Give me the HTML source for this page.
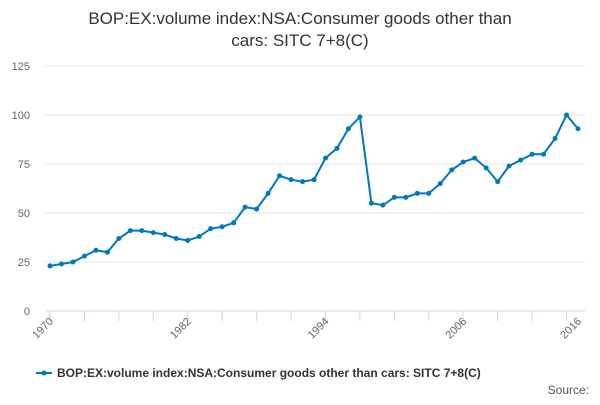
<!DOCTYPE html>
<html><head><meta charset="utf-8"><style>
body{margin:0;background:#fff;font-family:"Liberation Sans",sans-serif;}
svg text{font-family:"Liberation Sans",sans-serif;}
</style></head><body>
<svg id="chart" width="600" height="400">
<text x="300" y="24" text-anchor="middle" font-size="17" fill="#333">BOP:EX:volume index:NSA:Consumer goods other than</text>
<text x="300" y="46" text-anchor="middle" font-size="17" fill="#333">cars: SITC 7+8(C)</text>
<g id="grid"></g><g id="xaxis"></g><g id="series"></g>
<g>
<line x1="36" y1="373" x2="52" y2="373" stroke="#0077be" stroke-width="2"/>
<circle cx="44" cy="373" r="2.5" fill="#0077be"/>
<text x="57" y="377" font-size="12" font-weight="bold" fill="#333">BOP:EX:volume index:NSA:Consumer goods other than cars: SITC 7+8(C)</text>
</g>
<text x="589" y="394" text-anchor="end" font-size="12" fill="#555">Source:</text>
</svg>
<script>
const startYear = 1970;
const values = [23,24,25,28,31,30,37,41,41,40,39,37,36,38,42,43,45,53,52,60,69,67,66,67,78,83,93,99,55,54,58,58,60,60,65,72,76,78,73,66,74,77,80,80,88,100,93];
const yTicks = [0,25,50,75,100,125];
const xTickYears = [1970,1982,1994,2006,2016];
const NS='http://www.w3.org/2000/svg';
const x0=50,x1=578,y0=311,y1=66;
const X=i=>x0+(x1-x0)*i/(values.length-1);
const Y=v=>y0-(y0-y1)*v/125;
function mk(t,a,p){const e=document.createElementNS(NS,t);for(const k in a)e.setAttribute(k,a[k]);p.appendChild(e);return e;}
const grid=document.getElementById('grid');
yTicks.forEach(v=>{
  const l=mk('line',{x1:45,x2:585,y1:Y(v),y2:Y(v),stroke:v===0?'#ccd6eb':'#e6e6e6'},grid);
  
  
  const t=mk('text',{x:30,y:Y(v)+4,'text-anchor':'end','font-size':11,fill:'#666'},grid);
  t.textContent=v;
  
  
});
const xa=document.getElementById('xaxis');
for(let i=0;i<values.length;i+=3){
  const tk=mk('line',{x1:X(i),x2:X(i),y1:311,y2:321,stroke:'#ccd6eb'},xa);
  
  
}
xTickYears.forEach(yr=>{
  const i=yr-startYear;
  const t=mk('text',{x:X(i)+4,y:322,'text-anchor':'end','font-size':11,fill:'#666',transform:`rotate(-45 ${X(i)+4} 322)`},xa);
  t.textContent=yr;
  
  
});
const s=document.getElementById('series');
const p=mk('polyline',{points:values.map((v,i)=>X(i)+','+Y(v)).join(' '),fill:'none',stroke:'#0077be','stroke-width':2},s);


values.forEach((v,i)=>{
  const c=mk('circle',{cx:X(i),cy:Y(v),r:2.5,fill:'#0077be'},s);
  
  
});
</script>
</body></html>
